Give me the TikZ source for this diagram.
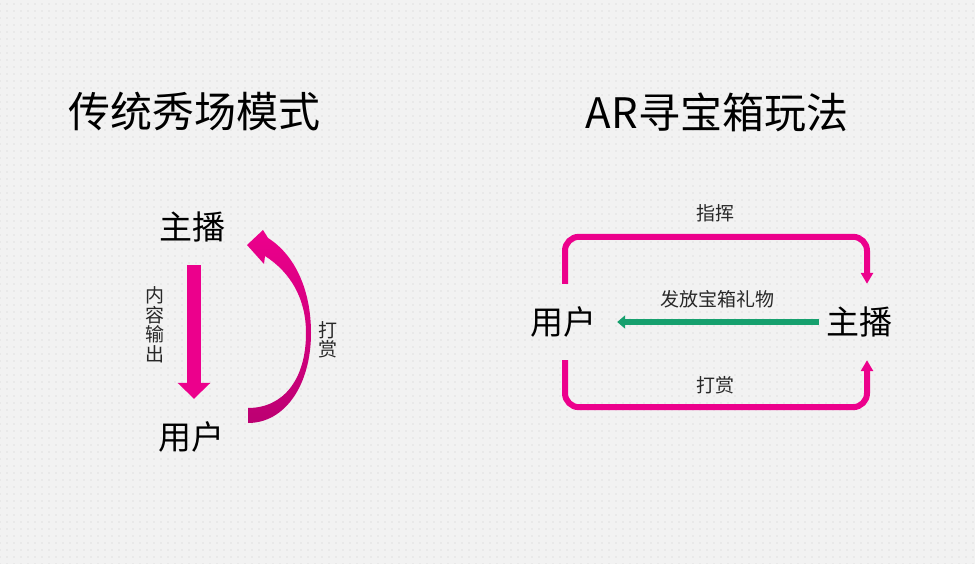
\documentclass[tikz,border=0pt]{standalone}
\usepackage{fontspec}
\setmainfont{Noto Sans CJK SC}
\usetikzlibrary{arrows.meta,positioning,patterns.meta}
\definecolor{rosepink}{RGB}{236,0,140}
\definecolor{rosedark}{RGB}{188,0,114}
\definecolor{jadegreen}{RGB}{22,160,110}
\definecolor{paper}{RGB}{242,242,242}
\definecolor{dotgray}{RGB}{205,205,205}
\definecolor{labelgray}{RGB}{40,40,40}

\begin{document}
\begin{tikzpicture}[x=1pt,y=-1pt,
  every node/.style={inner sep=0pt},
  title/.style={font=\fontsize{42}{42}\selectfont},
  actor/.style={font=\fontsize{33}{33}\selectfont,minimum height=76pt,minimum width=80pt},
  tag/.style={font=\fontsize{19}{19.5}\selectfont,text=labelgray,align=center},
  fatarrow/.style={draw=rosepink,line width=14pt,-{Triangle[width=32pt,length=16pt]}},
  pinkline/.style={draw=rosepink,line width=6pt,rounded corners=14pt,-{Triangle[width=12pt,length=11pt]}},
  greenarrow/.style={draw=jadegreen,line width=6pt,-{Triangle[width=13pt,length=8pt]}}]

  % background
  \fill[paper] (0,0) rectangle (975,564);
  \fill[pattern={Dots[distance=7pt,radius=0.6pt]},pattern color=dotgray] (0,0) rectangle (975,564);

  % titles
  \node[title] (oldtitle) at (194,112) {传统秀场模式};
  \node[title] (newtitle) at (717,112) {AR寻宝箱玩法};

  % left: classic show
  \node[actor] (host1) at (192,227) {主播};
  \node[actor] (user1) at (191,437) {用户};
  \draw[fatarrow] ([xshift=2pt]host1.south) -- ([xshift=3pt]user1.north);
  \node[tag] (outtag) at (155,325) {内\\容\\输\\出};

  % curved reward arrow
  \shade[top color=rosepink,middle color=rosepink,bottom color=rosedark]
    (247,245) -- (263,230) -- (268,238)
    .. controls (295,255) and (311,290) .. (311,333)
    .. controls (311,385) and (285,423) .. (248,423)
    -- (248,408)
    .. controls (283,408) and (306,380) .. (306,333)
    .. controls (306,298) and (290,272) .. (265,256)
    -- (264,264) -- cycle;
  \node[tag] (tip1) at (328,340) {打\\赏};

  % right: AR treasure box
  \node[actor] (user2) at (563,322) {用户};
  \node[actor] (host2) at (859,322) {主播};
  \draw[pinkline] ([xshift=2pt]user2.north) -- ++(0,-47) -| ([xshift=8pt]host2.north);
  \draw[pinkline] ([xshift=2pt]user2.south) -- ++(0,47) -| ([xshift=8pt]host2.south);
  \draw[greenarrow,shorten >=14pt] (host2.west) -- (user2.east);
  \node[tag] (cmdtag) at (715,213) {指挥};
  \node[tag] (gifttag) at (717,299) {发放宝箱礼物};
  \node[tag] (tip2) at (715,385) {打赏};
\end{tikzpicture}
\end{document}
